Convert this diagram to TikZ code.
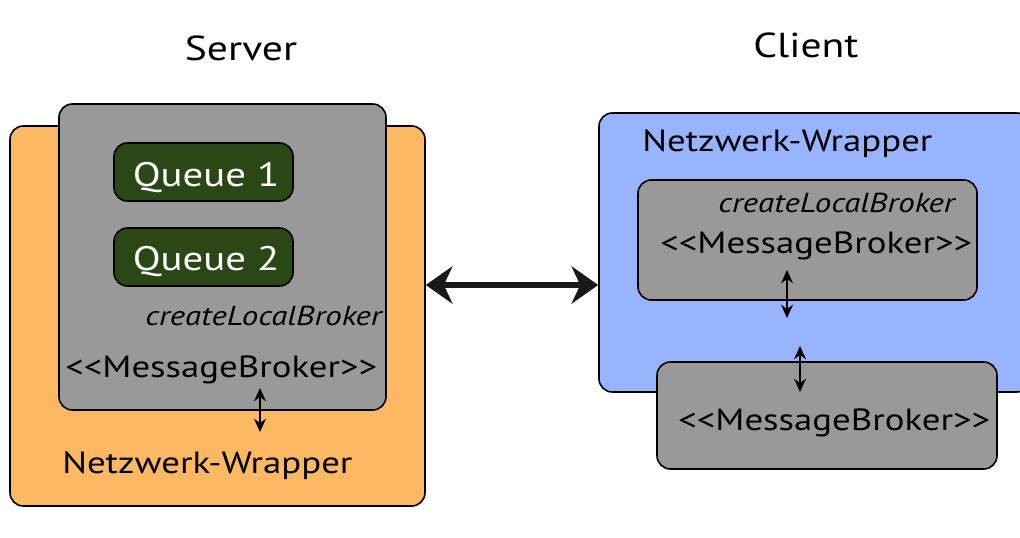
\documentclass[tikz,border=0pt]{standalone}
\usepackage{fontspec}
\setmainfont{PT Sans}[FakeStretch=1.2]
\usepackage{xcolor}
\usetikzlibrary{arrows.meta,positioning,fit}

\definecolor{wraporange}{HTML}{FDB863}
\definecolor{wrapblue}{HTML}{99B4FF}
\definecolor{brokergray}{HTML}{999999}
\definecolor{queuegreen}{HTML}{2B4716}

\tikzset{
    box/.style={draw=black,line width=1.2pt,rounded corners=10pt,inner sep=0pt},
    queuebox/.style={box,fill=queuegreen},
    queuetxt/.style={text=white,font=\fontsize{25.5}{28}\selectfont,inner sep=0pt,anchor=base},
    txt/.style={font=\fontsize{23}{26}\selectfont,inner sep=0pt,anchor=base west},
    itxt/.style={font=\fontsize{20.6}{24}\selectfont\itshape,inner sep=0pt,anchor=base east},
    title/.style={font=\fontsize{26}{30}\selectfont,inner sep=0pt,anchor=base},
    smallarrow/.style={{Stealth[length=10pt,width=9pt]}-{Stealth[length=10pt,width=9pt]},line width=1.3pt},
    bigarrow/.style={{Stealth[length=20pt,width=28pt]}-{Stealth[length=20pt,width=28pt]},line width=3.8pt,black!90}
}

\begin{document}
\begin{tikzpicture}[x=0.75pt,y=-0.75pt]
    \useasboundingbox (0,0) rectangle (1020,538);

    % Server
    \node[title] (srvtitle) at (241,61) {Server};
    \node[box,fill=wraporange,fit={(10,126) (425,506)}] (srvwrap) {};
    \node[box,fill=brokergray,fit={(59,104) (386,410)}] (srvbroker) {};
    \node[queuebox,fit={(114,143) (293,201)}] (queue1) {};
    \node[queuetxt] (q1txt) at (206,187) {Queue 1};
    \node[queuebox,fit={(114,228) (293,286)}] (queue2) {};
    \node[queuetxt] (q2txt) at (206,271) {Queue 2};
    \node[itxt] (srvcreate) at (382,325) {createLocalBroker};
    \node[txt] (srvmb) at (65,377) {<{}<MessageBroker>{}>};
    \node[txt] (srvnw) at (62,473) {Netzwerk-Wrapper};
    \coordinate (srvtop) at (260,388);
    \coordinate (srvbot) at (260,432);
    \draw[smallarrow] (srvtop) -- (srvbot);

    % Client
    \node[title] (clititle) at (806,58) {Client};
    \node[box,fill=wrapblue,fit={(599,113) (1030,392)}] (cliwrap) {};
    \node[txt] (clinw) at (642,152) {Netzwerk-Wrapper};
    \node[box,fill=brokergray,fit={(638,180) (977,300)}] (clilocal) {};
    \node[itxt] (clicreate) at (955,213) {createLocalBroker};
    \node[txt] (climb) at (660,253) {<{}<MessageBroker>{}>};
    \node[box,fill=brokergray,fit={(657,362) (997,469)}] (cliremote) {};
    \node[txt] (cliremmb) at (678,430) {<{}<MessageBroker>{}>};
    \coordinate (clia) at (787,270);
    \coordinate (clib) at (787,318);
    \draw[smallarrow] (clia) -- (clib);
    \coordinate (clic) at (800,346);
    \coordinate (clid) at (800,392);
    \draw[smallarrow] (clic) -- (clid);

    % connection
    \draw[bigarrow] (srvwrap.east |- 0,285) -- (cliwrap.west |- 0,285);
\end{tikzpicture}
\end{document}
